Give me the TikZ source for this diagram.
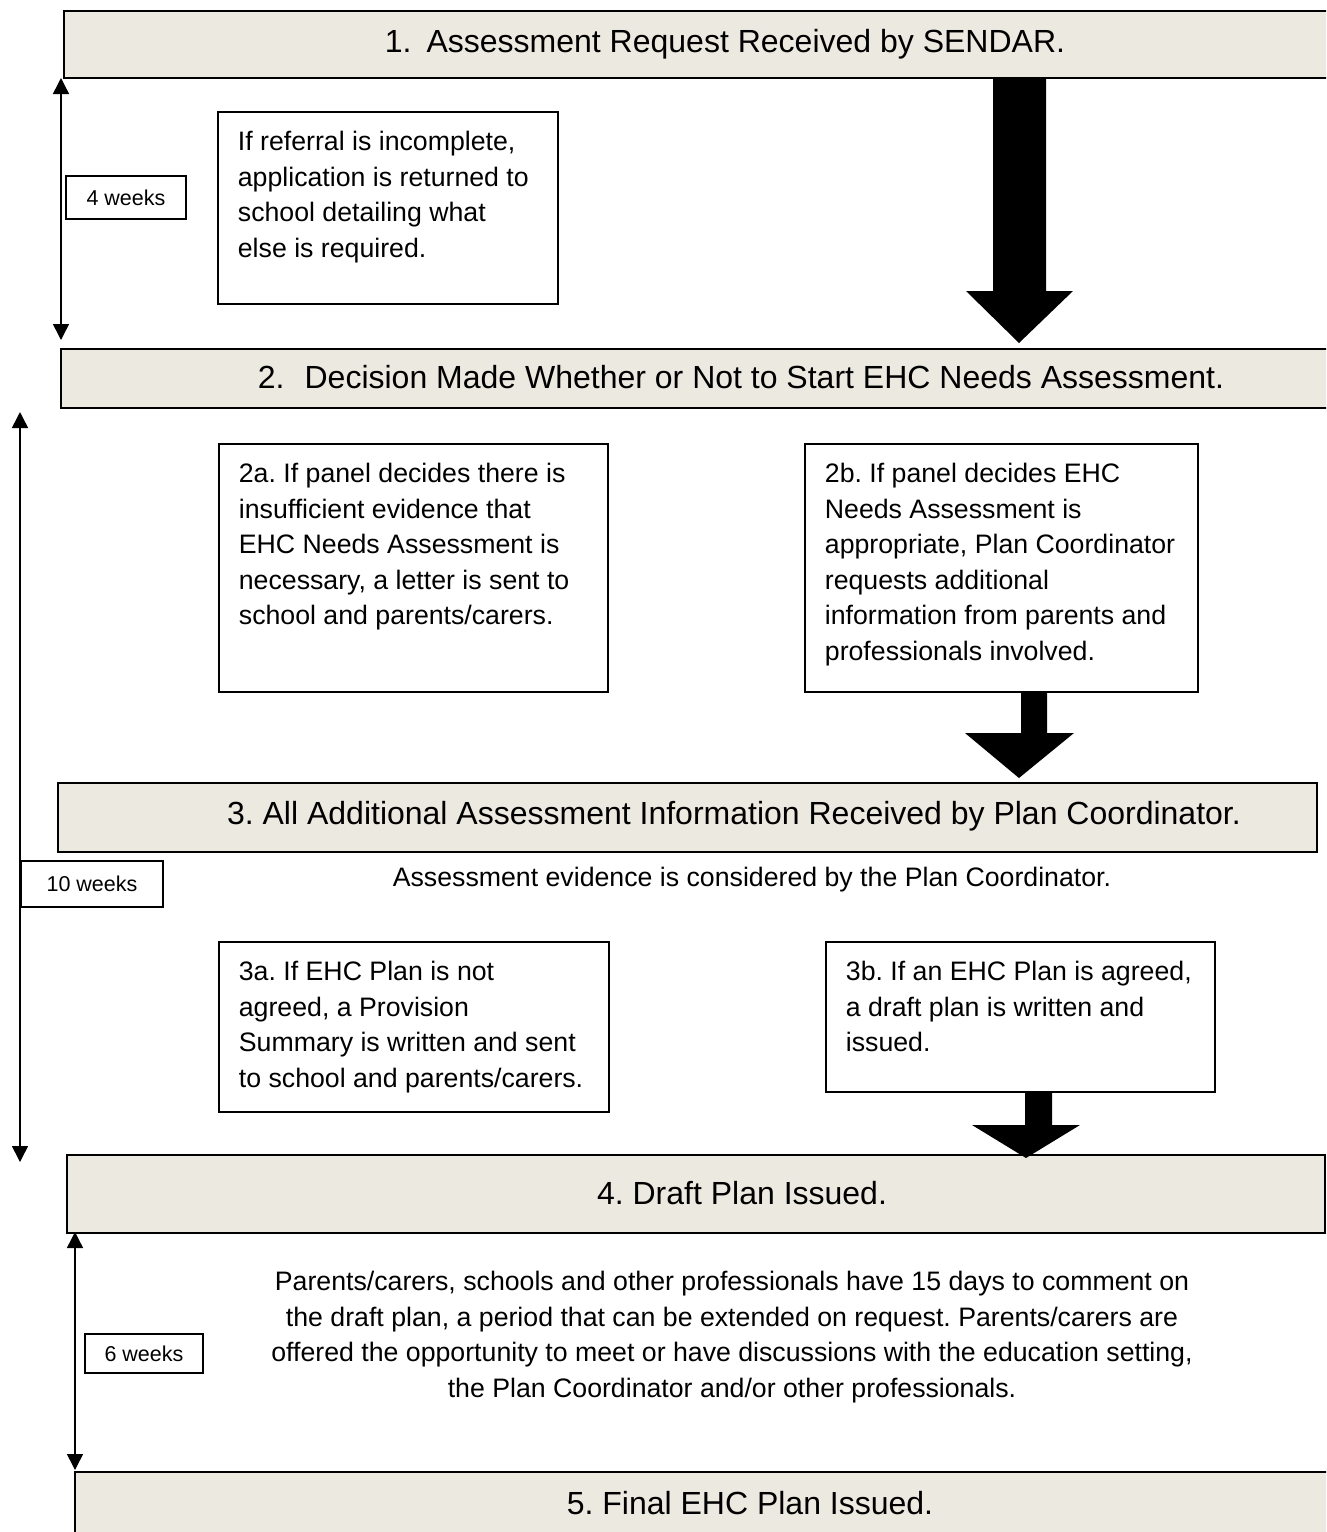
\documentclass[tikz,border=0pt]{standalone}
\usepackage{fontspec}
\setmainfont{Liberation Sans}
\usetikzlibrary{arrows.meta}
\definecolor{stagefill}{RGB}{236,233,224}
\newcommand{\infotext}[3]{\parbox[t][#2pt][t]{#1pt}{\strut #3}}
\frenchspacing

\begin{document}
\begin{tikzpicture}[
  x = 1pt, y = -1pt,
  stage/.style={draw, line width=2pt, fill=stagefill, rectangle, anchor=north west, inner sep=0pt},
  stagetext/.style={font=\fontsize{32}{38}\selectfont, inner sep=0pt},
  note/.style={draw, line width=1.8pt, rectangle, anchor=north west, inner xsep=20pt, inner ysep=14pt, font=\fontsize{26.7}{35.5}\selectfont},
  plain/.style={font=\fontsize{26.7}{35.5}\selectfont, align=center, inner sep=0pt},
  period/.style={draw, line width=1.5pt, rectangle, inner sep=0pt, font=\fontsize{21.5}{25}\selectfont},
  timeline/.style={{Triangle[width=16pt,length=16pt]}-{Triangle[width=16pt,length=16pt]}, line width=1.5pt},
  bigarrow/.style={fill=black}
]
    \useasboundingbox (0,0) rectangle (1326,1532);
    \clip (0,0) rectangle (1326,1532);

    % Stage bars
    \node[stage, minimum width=1300pt, minimum height=67pt] (stage1) at (63,10) {};
    \node[stage, minimum width=1300pt, minimum height=59pt] (stage2) at (60,348) {};
    \node[stage, minimum width=1259pt, minimum height=69pt] (stage3) at (57,782) {};
    \node[stage, minimum width=1258pt, minimum height=78pt] (stage4) at (66,1154) {};
    \node[stage, minimum width=1300pt, minimum height=64pt] (stage5) at (74,1471) {};

    \node[stagetext] (stage1text) at (725,44) {1.\hspace{15pt}Assessment Request Received by SENDAR.};
    \node[stagetext] (stage2text) at (741,377) {2.\hspace{20pt}Decision Made Whether or Not to Start EHC Needs Assessment.};
    \node[stagetext] (stage3text) at (734,816) {3. All Additional Assessment Information Received by Plan Coordinator.};
    \node[stagetext] (stage4text) at (742,1193) {4. Draft Plan Issued.};
    \node[stagetext] (stage5text) at (750,1503) {5. Final EHC Plan Issued.};

    % Notes
    \node[note] (referral) at (217,111) {\infotext{300}{164}{If referral is incomplete,\\application is returned to\\school detailing what\\else is required.}};
    \node[note] (nofurther) at (218,443) {\infotext{349}{220}{2a. If panel decides there is\\insufficient evidence that\\EHC Needs Assessment is\\necessary, a letter is sent to\\school and parents/carers.}};
    \node[note] (further) at (804,443) {\infotext{353}{220}{2b. If panel decides EHC\\Needs Assessment is\\appropriate, Plan Coordinator\\requests additional\\information from parents and\\professionals involved.}};
    \node[note] (noplan) at (218,941) {\infotext{350}{142}{3a. If EHC Plan is not\\agreed, a Provision\\Summary is written and sent\\to school and parents/carers.}};
    \node[note] (plan) at (825,941) {\infotext{349}{122}{3b. If an EHC Plan is agreed,\\a draft plan is written and\\issued.}};

    \node[plain] (evidence) at (752,880) {Assessment evidence is considered by the Plan Coordinator.};
    \node[plain] (comments) at (732,1337) {Parents/carers, schools and other professionals have 15 days to comment on\\the draft plan, a period that can be extended on request. Parents/carers are\\offered the opportunity to meet or have discussions with the education setting,\\the Plan Coordinator and/or other professionals.};

    % Time periods
    \coordinate (fourtop) at (61,78);
    \coordinate (fourbot) at (61,340);
    \coordinate (tentop) at (20,412);
    \coordinate (tenbot) at (20,1162);
    \coordinate (sixtop) at (75,1232);
    \coordinate (sixbot) at (75,1470);
    \draw[timeline] (fourtop) -- (fourbot);
    \draw[timeline] (tentop) -- (tenbot);
    \draw[timeline] (sixtop) -- (sixbot);

    \node[period, minimum width=120pt, minimum height=43pt] (fourweeks) at (126,197.5) {4 weeks};
    \node[period, minimum width=142pt, minimum height=46pt] (tenweeks) at (92,884) {10 weeks};
    \node[period, minimum width=118pt, minimum height=39pt] (sixweeks) at (144,1353.5) {6 weeks};

    % Block arrows
    \fill[bigarrow] (993,77) -- (1046,77) -- (1046,291) -- (1073,291) -- (1019,343) -- (966,291) -- (993,291) -- cycle;
    \fill[bigarrow] (1021,692) -- (1047,692) -- (1047,733) -- (1074,733) -- (1019,778) -- (965,733) -- (1021,733) -- cycle;
    \fill[bigarrow] (1025,1092) -- (1052,1092) -- (1052,1125) -- (1080,1125) -- (1026,1158) -- (972,1125) -- (1025,1125) -- cycle;
\end{tikzpicture}
\end{document}
